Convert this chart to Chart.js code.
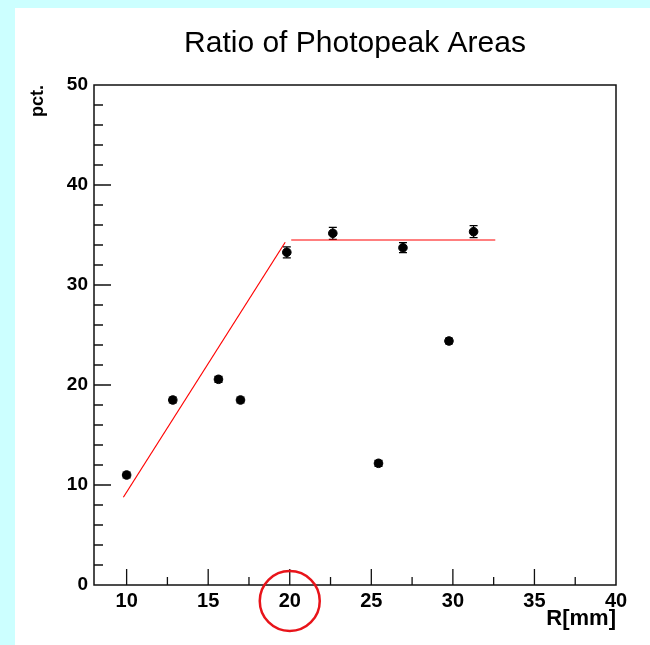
<!DOCTYPE html>
<html>
<head>
<meta charset="utf-8">
<script src="https://cdn.jsdelivr.net/npm/chart.js@4.4.0/dist/chart.umd.min.js"></script>
<style>
  html, body { margin: 0; padding: 0; background: #ccffff; }
  #sheet { position: absolute; left: 15px; top: 8px; width: 635px; height: 637px; background: #ffffff; }
  #wrap { position: absolute; left: 0; top: 0; width: 650px; height: 645px; }
</style>
</head>
<body>
<div id="sheet"></div>
<div id="wrap"><canvas id="c" width="650" height="645"></canvas></div>
<script>
// Measured points: source radius (mm) vs. photopeak area ratio (%)
const radius   = [10.0, 12.83, 15.63, 16.98, 19.82, 22.64, 25.44, 26.94, 29.76, 31.27];
const ratio    = [11.0, 18.5, 20.57, 18.5, 33.27, 35.17, 12.17, 33.73, 24.4, 35.33];
const ratioErr = [0.3, 0.3, 0.3, 0.3, 0.55, 0.6, 0.3, 0.5, 0.3, 0.6];

// Piecewise fit: rising segment and plateau
const riseX    = [9.8, 19.72];
const riseY    = [8.77, 34.27];
const plateauX = [20.09, 32.6];
const plateauY = [34.5, 34.5];

// Axis tick labels
const xTicks = [10, 15, 20, 25, 30, 35, 40];
const yTicks = [0, 10, 20, 30, 40, 50];

const FONT = "'Liberation Sans', Arial, Helvetica, sans-serif";

const toPoints = (xs, ys) => xs.map((x, i) => ({ x: x, y: ys[i] }));

// Frame with inward major/minor ticks, drawn through the chart's scales
const framePlugin = {
  id: 'frame',
  beforeDatasetsDraw(chart) {
    const { ctx, chartArea: a, scales: { x, y } } = chart;
    ctx.save();
    ctx.strokeStyle = '#111';
    ctx.lineWidth = 1.5;
    ctx.strokeRect(a.left, a.top, a.right - a.left, a.bottom - a.top);
    ctx.lineWidth = 1.3;
    ctx.beginPath();
    // x axis ticks
    xTicks.forEach((v, i) => {
      const px = x.getPixelForValue(v);
      if (v > x.min && v < x.max) { ctx.moveTo(px, a.bottom); ctx.lineTo(px, a.bottom - 16); }
      if (i < xTicks.length - 1) {
        const m = (v + xTicks[i + 1]) / 2;
        const pm = x.getPixelForValue(m);
        ctx.moveTo(pm, a.bottom); ctx.lineTo(pm, a.bottom - 8);
      }
    });
    // y axis ticks
    yTicks.forEach((v, i) => {
      const py = y.getPixelForValue(v);
      if (v > y.min && v < y.max) { ctx.moveTo(a.left, py); ctx.lineTo(a.left + 17, py); }
      if (i < yTicks.length - 1) {
        const step = (yTicks[i + 1] - v) / 5;
        for (let k = 1; k < 5; k++) {
          const pm = y.getPixelForValue(v + k * step);
          ctx.moveTo(a.left, pm); ctx.lineTo(a.left + 9, pm);
        }
      }
    });
    ctx.stroke();
    ctx.restore();
  }
};

// Vertical error bars with end caps
const errorBarPlugin = {
  id: 'errorBars',
  beforeDatasetsDraw(chart) {
    const { ctx, scales: { x, y } } = chart;
    ctx.save();
    ctx.strokeStyle = '#000';
    ctx.lineWidth = 1.2;
    ctx.beginPath();
    radius.forEach((r, i) => {
      const px = x.getPixelForValue(r);
      const lo = y.getPixelForValue(ratio[i] - ratioErr[i]);
      const hi = y.getPixelForValue(ratio[i] + ratioErr[i]);
      ctx.moveTo(px, lo); ctx.lineTo(px, hi);
      ctx.moveTo(px - 4, lo); ctx.lineTo(px + 4, lo);
      ctx.moveTo(px - 4, hi); ctx.lineTo(px + 4, hi);
    });
    ctx.stroke();
    ctx.restore();
  }
};

// Red ring highlighting the 20 mm tick label
const ringPlugin = {
  id: 'ring',
  afterDraw(chart) {
    const { ctx, chartArea: a, scales: { x } } = chart;
    ctx.save();
    ctx.strokeStyle = '#e8141a';
    ctx.lineWidth = 2.5;
    ctx.beginPath();
    ctx.arc(x.getPixelForValue(20), a.bottom + 16, 30, 0, Math.PI * 2);
    ctx.stroke();
    ctx.restore();
  }
};

new Chart(document.getElementById('c'), {
  type: 'scatter',
  data: {
    datasets: [
      {
        label: 'data',
        data: toPoints(radius, ratio),
        backgroundColor: '#000',
        borderColor: '#000',
        pointRadius: 4.3,
        pointHoverRadius: 4.3,
        order: 0
      },
      {
        label: 'rise',
        data: toPoints(riseX, riseY),
        showLine: true,
        borderColor: '#ff0000',
        borderWidth: 1.2,
        pointRadius: 0,
        order: 1
      },
      {
        label: 'plateau',
        data: toPoints(plateauX, plateauY),
        showLine: true,
        borderColor: '#ff0000',
        borderWidth: 1.2,
        pointRadius: 0,
        order: 1
      }
    ]
  },
  options: {
    responsive: false,
    devicePixelRatio: 1,
    animation: false,
    layout: { padding: { left: 0, top: 0, right: 34, bottom: 0 } },
    plugins: {
      legend: { display: false },
      tooltip: { enabled: false },
      title: {
        display: true,
        text: 'Ratio of Photopeak Areas',
        color: '#000',
        fullSize: false,
        font: { family: FONT, size: 30, weight: 'normal' },
        padding: { top: 26, bottom: 23 }
      }
    },
    scales: {
      x: {
        type: 'linear',
        min: 8,
        max: 40,
        afterBuildTicks: s => { s.ticks = xTicks.map(v => ({ value: v })); },
        afterFit: s => { s.height = 60; },
        grid: { display: false, drawTicks: false },
        border: { display: false },
        ticks: {
          color: '#000',
          padding: 4,
          maxRotation: 0,
          autoSkip: false,
          font: { family: FONT, size: 20, weight: 'bold' }
        },
        title: {
          display: true,
          text: 'R[mm]',
          align: 'end',
          color: '#000',
          font: { family: FONT, size: 22, weight: 'bold' },
          padding: { top: 0, bottom: 13 }
        }
      },
      y: {
        type: 'linear',
        min: 0,
        max: 50,
        afterBuildTicks: s => { s.ticks = yTicks.map(v => ({ value: v })); },
        afterFit: s => { s.width = 94; },
        grid: { display: false, drawTicks: false },
        border: { display: false },
        ticks: {
          color: '#000',
          padding: 6,
          autoSkip: false,
          font: { family: FONT, size: 19, weight: 'bold' }
        },
        title: {
          display: true,
          text: 'pct.',
          align: 'end',
          color: '#000',
          font: { family: FONT, size: 18, weight: 'bold' },
          padding: { top: 27, bottom: 0 }
        }
      }
    }
  },
  plugins: [framePlugin, errorBarPlugin, ringPlugin]
});
</script>
</body>
</html>
